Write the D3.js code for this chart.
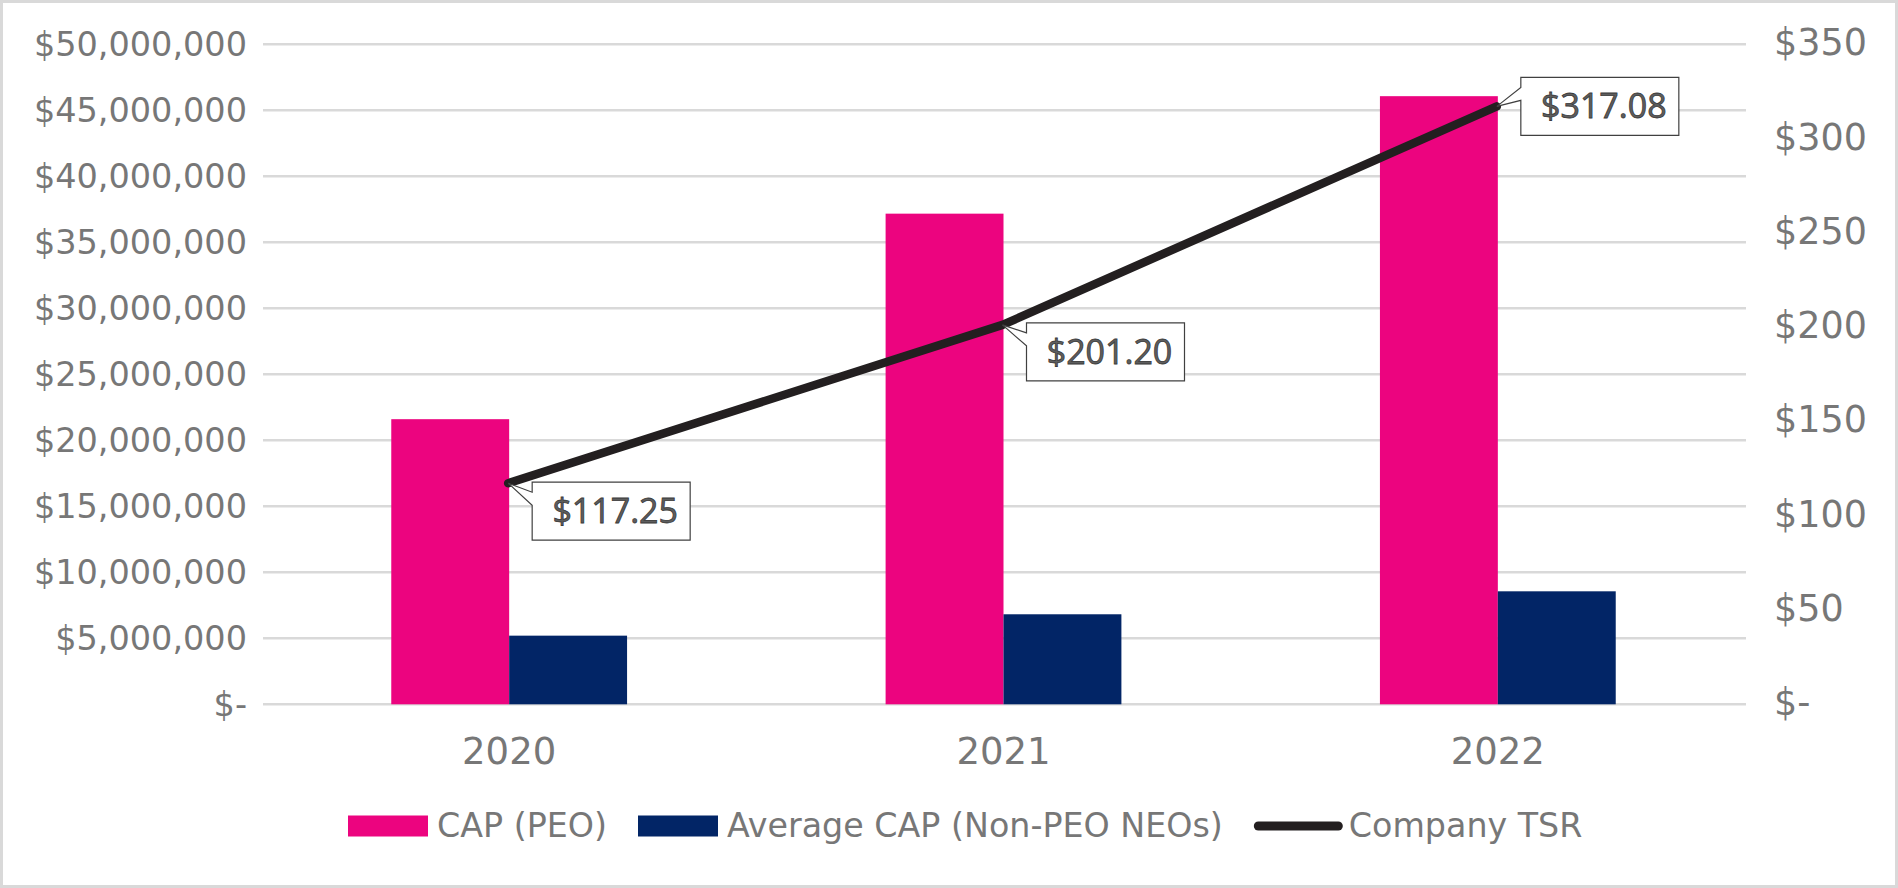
<!DOCTYPE html>
<html>
<head>
<meta charset="utf-8">
<script src="https://cdn.jsdelivr.net/npm/d3@7/dist/d3.min.js"></script>
<style>
  html, body { margin: 0; padding: 0; background: #fff; }
  svg { display: block; }
</style>
</head>
<body>
<svg id="chart" width="1898" height="888"></svg>
<script>
// ---- data ----
const years = ["2020", "2021", "2022"];
const capPEO = [21600000, 37170000, 46070000];
const avgCapNonPEO = [5200000, 6820000, 8560000];
const companyTSR = [117.25, 201.20, 317.08];
const leftTicks = [0, 5000000, 10000000, 15000000, 20000000, 25000000, 30000000, 35000000, 40000000, 45000000, 50000000];
const rightTicks = [0, 50, 100, 150, 200, 250, 300, 350];
const seriesNames = ["CAP (PEO)", "Average CAP (Non-PEO NEOs)", "Company TSR"];

// ---- styles / layout ----
const W = 1898, H = 888;
const plot = { left: 263, right: 1746, top: 44.3, bottom: 704.3 };
const pink = "#EC047F", navy = "#022566", lineColor = "#231F20";
const gridColor = "#D9D9D9", textGray = "#777777";
const labelDy = [-1, -2, -29]; // callout box top relative to point

const svg = d3.select("#chart");

// outer border
svg.append("rect").attr("x", 1.5).attr("y", 1.5).attr("width", W - 3).attr("height", H - 3)
  .attr("fill", "#fff").attr("stroke", gridColor).attr("stroke-width", 3);

const x = d3.scaleBand().domain(years).range([plot.left, plot.right]).padding(0);
const yL = d3.scaleLinear().domain([0, 50000000]).range([plot.bottom, plot.top]);
const yR = d3.scaleLinear().domain([0, 350]).range([plot.bottom, plot.top]);

// gridlines
svg.append("g").selectAll("line").data(leftTicks).join("line")
  .attr("x1", plot.left).attr("x2", plot.right)
  .attr("y1", d => yL(d)).attr("y2", d => yL(d))
  .attr("stroke", gridColor).attr("stroke-width", 2.6);

// left axis labels
const fmtL = d => d === 0 ? "$-" : "$" + d3.format(",")(d);
svg.append("g").selectAll("text").data(leftTicks).join("text")
  .attr("x", 247).attr("y", d => yL(d) + 12)
  .attr("text-anchor", "end")
  .attr("font-family", "DejaVu Sans, Verdana, sans-serif").attr("font-size", 33.5)
  .attr("fill", textGray)
  .text(fmtL);

// right axis labels
svg.append("g").selectAll("text").data(rightTicks).join("text")
  .attr("x", 1774).attr("y", d => yR(d) + 11)
  .attr("text-anchor", "start")
  .attr("font-family", "DejaVu Sans, Verdana, sans-serif").attr("font-size", 36.5)
  .attr("fill", textGray)
  .text(d => d === 0 ? "$-" : "$" + d);

// x axis labels
svg.append("g").selectAll("text").data(years).join("text")
  .attr("x", d => x(d) + x.bandwidth() / 2 - 1).attr("y", 764)
  .attr("text-anchor", "middle")
  .attr("font-family", "DejaVu Sans, Verdana, sans-serif").attr("font-size", 37)
  .attr("fill", textGray)
  .text(d => d);

// bars
const barW = x.bandwidth() * 0.2385;
const cx = d => x(d) + x.bandwidth() / 2 - 1;
svg.append("g").selectAll("rect").data(years).join("rect")
  .attr("x", d => cx(d) - barW).attr("width", barW)
  .attr("y", (d, i) => yL(capPEO[i])).attr("height", (d, i) => yL(0) - yL(capPEO[i]))
  .attr("fill", pink);
svg.append("g").selectAll("rect").data(years).join("rect")
  .attr("x", d => cx(d)).attr("width", barW)
  .attr("y", (d, i) => yL(avgCapNonPEO[i])).attr("height", (d, i) => yL(0) - yL(avgCapNonPEO[i]))
  .attr("fill", navy);

// TSR line
const pts = years.map((d, i) => [cx(d) - 1, yR(companyTSR[i])]);
svg.append("path")
  .attr("d", d3.line()(pts))
  .attr("fill", "none").attr("stroke", lineColor).attr("stroke-width", 8.5)
  .attr("stroke-linecap", "round").attr("stroke-linejoin", "round");

// data label callouts
const boxW = 158, boxH = 58;
pts.forEach((p, i) => {
  const left = p[0] + 24, top = p[1] + labelDy[i];
  const right = left + boxW, bottom = top + boxH;
  const w1 = top + 10;
  const w2 = top + 23;
  const path = `M${left},${top} L${right},${top} L${right},${bottom} L${left},${bottom} L${left},${w2} L${p[0]},${p[1]} L${left},${w1} Z`;
  svg.append("path").attr("d", path)
    .attr("fill", "#fff").attr("stroke", "#404040").attr("stroke-width", 1.2);
  svg.append("text")
    .attr("x", left + boxW / 2 + 4).attr("y", top + boxH / 2 + 12)
    .attr("text-anchor", "middle")
    .attr("font-family", "Open Sans, Lato, sans-serif").attr("font-size", 34)
    .attr("fill", "#5E5E5E").attr("stroke", "#3A3A3A").attr("stroke-width", 0.8)
    .text("$" + d3.format(".2f")(companyTSR[i]));
});

// legend
const legY = 826;
let lx = 348;
const legend = svg.append("g");
seriesNames.forEach((name, i) => {
  if (i < 2) {
    legend.append("rect").attr("x", lx).attr("y", legY - 10.5).attr("width", 80).attr("height", 21)
      .attr("fill", i === 0 ? pink : navy);
    lx += 89;
  } else {
    legend.append("line").attr("x1", lx + 4.5).attr("x2", lx + 84.5).attr("y1", legY).attr("y2", legY)
      .attr("stroke", lineColor).attr("stroke-width", 9).attr("stroke-linecap", "round");
    lx += 95;
  }
  const t = legend.append("text").attr("x", lx).attr("y", legY + 11)
    .attr("font-family", "DejaVu Sans, Verdana, sans-serif").attr("font-size", 33.3)
    .attr("fill", textGray).text(name);
  lx += t.node().getComputedTextLength() + 31;
});
</script>
</body>
</html>
